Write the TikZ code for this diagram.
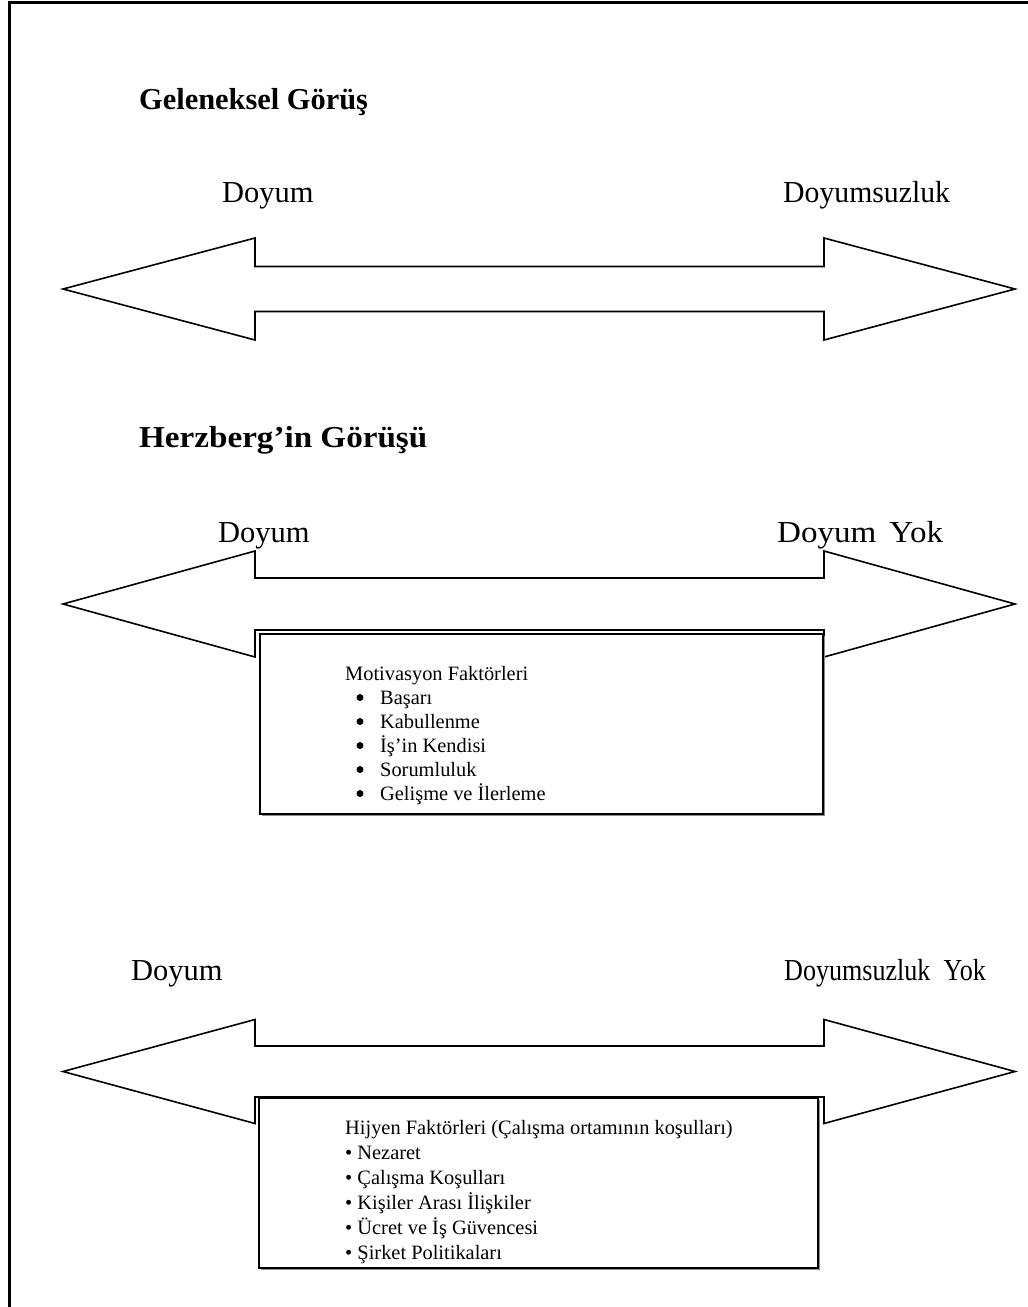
\documentclass[tikz,border=0pt]{standalone}
\usepackage{fontspec}
\setmainfont{Liberation Serif}
\begin{document}
\begin{tikzpicture}[x=1pt,y=-1pt,
  arrowshape/.style={draw=black,line width=1.6pt,fill=white,line join=miter},
  bigtxt/.style={anchor=base west,inner sep=0pt,font=\fontsize{30.5}{36}\selectfont},
  titletxt/.style={anchor=base west,inner sep=0pt,font=\fontsize{30.4}{36}\selectfont\bfseries},
  boxtxt/.style={anchor=base west,inner sep=0pt,font=\fontsize{20.4}{24}\selectfont},
  bulletdot/.style={circle,fill=black,inner sep=0pt,minimum size=7pt},
  factorbox/.style={draw=black,line width=1.6pt,fill=white,anchor=north west,inner sep=0pt},
  shadowbox/.style={fill=black!45,anchor=north west,inner sep=0pt}]
\useasboundingbox (0,0) rectangle (1028,1307);
% frame
\draw[line width=3pt] (9.5,1307) -- (9.5,2.5) -- (1028,2.5);

% titles
\node[titletxt] (t1) at (139,109) {Geleneksel Görüş};
\node[titletxt] (t2) at (139,447) {\scalebox{1.09}[1]{Herzberg’in Görüşü}};

% arrow 1
\node[bigtxt] (d1) at (222,202) {Doyum};
\node[bigtxt] (u1) at (783,202) {\scalebox{0.975}[1]{Doyumsuzluk}};
\draw[arrowshape] (63,289) -- (255,238) -- (255,266.5) -- (824,266.5) -- (824,238) -- (1015,289)
  -- (824,340) -- (824,311.5) -- (255,311.5) -- (255,340) -- cycle;

% arrow 2
\node[bigtxt] (d2) at (218,542) {Doyum};
\node[bigtxt] (u2) at (777,542) {\scalebox{1.085}[1]{Doyum\hspace{12pt}Yok}};
\draw[arrowshape] (63,604) -- (255,551) -- (255,578) -- (824,578) -- (824,551) -- (1015,604)
  -- (824,657) -- (824,630) -- (255,630) -- (255,657) -- cycle;

% box 1
\node[shadowbox,minimum width=563pt,minimum height=180pt] (s1) at (261.5,635.5) {};
\node[factorbox,minimum width=563pt,minimum height=180pt] (b1) at (259,633) {};
\node[boxtxt] (m0) at (345,680) {Motivasyon Faktörleri};
\foreach \t/\yy [count=\i] in {Başarı/704,Kabullenme/728,İş’in Kendisi/752,Sorumluluk/776,Gelişme ve İlerleme/800}{
  \node[bulletdot] (mb\i) at (360,\yy-6.5) {};
  \node[boxtxt] (m\i) at (380,\yy) {\t};
}

% arrow 3
\node[bigtxt] (d3) at (131,980) {Doyum};
\node[bigtxt] (u3) at (784,980) {\scalebox{0.855}[1]{Doyumsuzluk\ \ Yok}};
\draw[arrowshape] (63,1071.5) -- (255,1019.5) -- (255,1046) -- (824,1046) -- (824,1019.5) -- (1015,1071.5)
  -- (824,1123.5) -- (824,1097) -- (255,1097) -- (255,1123.5) -- cycle;

% box 2
\node[shadowbox,minimum width=559pt,minimum height=170pt] (s2) at (260.5,1099.5) {};
\node[factorbox,minimum width=559pt,minimum height=170pt] (b2) at (258,1097) {};
\node[boxtxt] (h0) at (345,1134) {Hijyen Faktörleri (Çalışma ortamının koşulları)};
\foreach \t/\yy [count=\i] in {Nezaret/1159,Çalışma Koşulları/1184,Kişiler Arası İlişkiler/1209,Ücret ve İş Güvencesi/1234,Şirket Politikaları/1259}{
  \node[boxtxt] (h\i) at (345,\yy) {•\ \t};
}
\end{tikzpicture}
\end{document}
